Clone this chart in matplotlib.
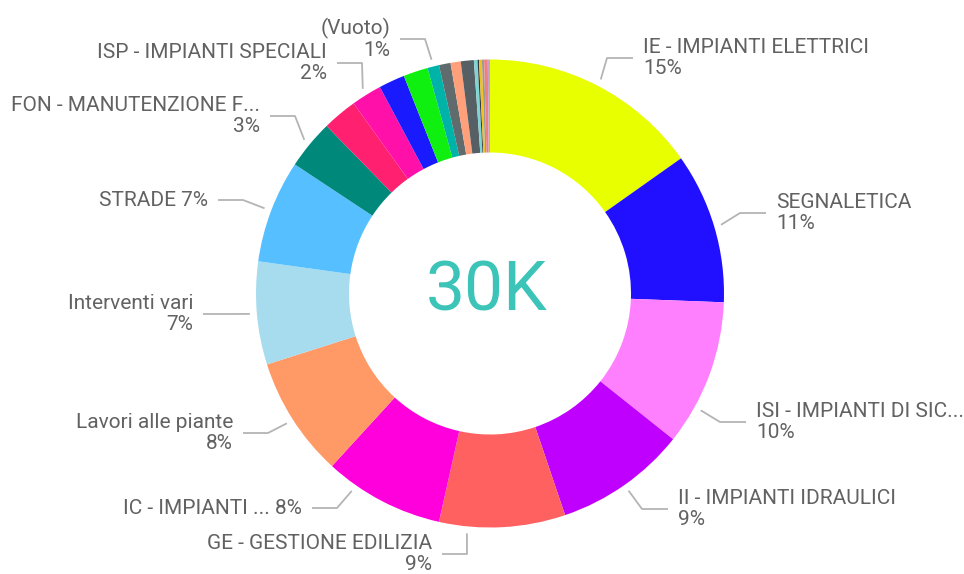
import matplotlib
matplotlib.use('Agg')
import matplotlib.pyplot as plt
import numpy as np

# Dati (conteggi per categoria, totale ~30K)
categorie = ['IE - IMPIANTI ELETTRICI', 'SEGNALETICA', 'ISI - IMPIANTI DI SIC...',
             'II - IMPIANTI IDRAULICI', 'GE - GESTIONE EDILIZIA', 'IC - IMPIANTI ...',
             'Lavori alle piante', 'Interventi vari', 'STRADE', 'FON - MANUTENZIONE F...',
             'Altro 1', 'ISP - IMPIANTI SPECIALI', 'Altro 2', 'Altro 3', '(Vuoto)',
             'Altro 4', 'Altro 5', 'Altro 6', 'Altro 7', 'Altro 8', 'Altro 9',
             'Altro 10', 'Altro 11', 'Altro 12']
valori = [4560, 3120, 3030, 2730, 2610, 2490, 2490, 2130, 2130, 1020,
          720, 630, 540, 510, 240, 240, 210, 270, 75, 30, 60, 45, 75, 45]
colori = ['#E8FF00', '#2010FF', '#FF80FF', '#C000FF', '#FF6060', '#FF00DD',
          '#FF9966', '#A6DCEE', '#55BFFF', '#00897B', '#FF2070', '#FF10A8',
          '#1A1AFF', '#10F010', '#00B3A8', '#5F6B6D', '#FFA07A', '#566064',
          '#7FD4D4', '#3A3A3A', '#F0C020', '#9A9A9A', '#F08080', '#C8A0D0']
totale_label = '30K'

# Etichette mostrate: indice fetta -> testo
etichette = {0: 'IE - IMPIANTI ELETTRICI\n15%', 1: 'SEGNALETICA\n11%',
             2: 'ISI - IMPIANTI DI SIC...\n10%', 3: 'II - IMPIANTI IDRAULICI\n9%',
             4: 'GE - GESTIONE EDILIZIA\n9%', 5: 'IC - IMPIANTI ... 8%',
             6: 'Lavori alle piante\n8%', 7: 'Interventi vari\n7%', 8: 'STRADE 7%',
             9: 'FON - MANUTENZIONE F...\n3%', 11: 'ISP - IMPIANTI SPECIALI\n2%',
             14: '(Vuoto)\n1%'}

# Layout (pixel, y dall'alto): gomito della linea guida e lato
gomiti = {0: (607, 58, 'r'), 1: (740, 213, 'r'), 2: (720, 422, 'r'), 3: (642, 509, 'r'),
          4: (467, 554, 'l'), 5: (337, 508, 'l'), 6: (268, 433, 'l'), 7: (228, 314, 'l'),
          8: (243, 200, 'l'), 9: (295, 116, 'l'), 11: (362, 63, 'l'), 14: (425, 39, 'l')}
# angolo di partenza della linea (gradi, orario dall'alto) dove non e' a meta' fetta
partenze = {2: 119, 4: 185.5, 5: 215}

W, H = 964, 574
cx, cy = 490, H - 293.5
R, spessore = 234, 93
testo_col = '#626262'
linea_col = '#B4B4B4'
font = 'Roboto'

fig = plt.figure(figsize=(W / 100, H / 100), dpi=100)
ax = fig.add_axes([0, 0, 1, 1])
wedges, _ = ax.pie(valori, colors=colori, startangle=90, counterclock=False,
                   center=(cx, cy), radius=R,
                   wedgeprops=dict(width=spessore, linewidth=0))
ax.set_xlim(0, W)
ax.set_ylim(0, H)
ax.set_aspect('equal')
ax.axis('off')

for i, testo in etichette.items():
    w = wedges[i]
    if i in partenze:
        theta = np.deg2rad(90 - partenze[i])
    else:
        theta = np.deg2rad((w.theta1 + w.theta2) / 2)
    x0, y0 = cx + 241 * np.cos(theta), cy + 241 * np.sin(theta)
    ex, ey, lato = gomiti[i]
    ey = H - ey
    if lato == 'r':
        x2 = ex + 26
        tx, ha = x2 + 10, 'left'
    else:
        x2 = ex - 25
        tx, ha = x2 - 10, 'right'
    ax.plot([x0, ex, x2], [y0, ey, ey], color=linea_col, lw=1.3, solid_capstyle='butt')
    ax.text(tx, ey, testo, ha=ha, va='center', multialignment=ha,
            color=testo_col, fontsize=15, family=font, linespacing=1.15)

ax.text(cx - 3, cy + 2, totale_label, ha='center', va='center', color='#3CC4B8',
        fontsize=50, family=font)

fig.savefig('out.png', dpi=100)
